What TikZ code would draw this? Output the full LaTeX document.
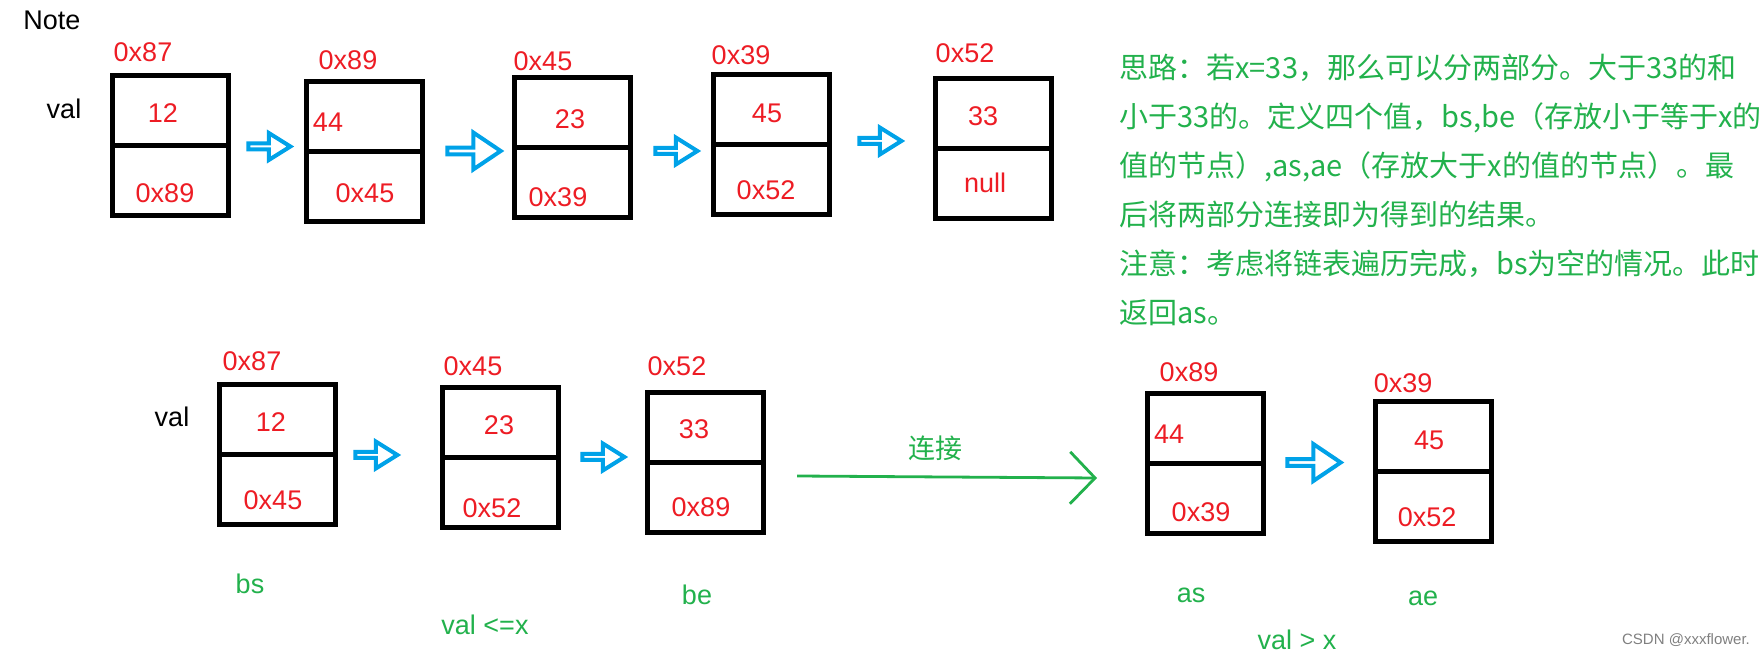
\documentclass[tikz,border=0pt]{standalone}
\usepackage{fontspec}
\setmainfont{Liberation Sans}
\newfontfamily\cjk{Noto Sans CJK SC}
\usetikzlibrary{shapes.arrows,arrows.meta}
\definecolor{pred}{RGB}{237,28,36}
\definecolor{pgreen}{RGB}{34,177,76}
\definecolor{pblue}{RGB}{0,162,232}
\tikzset{
  cell/.style={draw, line width=2.5pt, inner sep=0pt, outer sep=0pt,
    minimum width=58pt, minimum height=70pt},
  lbl/.style={inner sep=0pt, font=\fontsize{13.5}{16}\selectfont},
  addr/.style={lbl, text=pred},
  tag/.style={lbl, text=pgreen},
  nextarr/.style={single arrow, draw=pblue, line width=2pt, inner sep=0pt,
    minimum height=21pt, minimum width=13.5pt,
    single arrow head extend=3.5pt, single arrow tip angle=64},
  bignext/.style={nextarr, minimum height=26.7pt, minimum width=18.5pt,
    single arrow head extend=4.5pt, single arrow tip angle=68},
  link/.style={pgreen, line width=1.4pt, -{Straight Barb[length=12.5pt,width=26pt]}}
}
\begin{document}
\begin{tikzpicture}[x=0.5pt, y=-0.5pt]
  \useasboundingbox (0,0) rectangle (1764,656);
  % Whole list.
  \node[lbl] (note) at (52,20) {Note};
  \node[lbl] (val1) at (64,109) {val};
  \node[cell] (b87) at (170,146) {};
  \node[cell] (b89) at (364,152) {};
  \node[cell] (b45) at (572,148) {};
  \node[cell] (b39) at (771,145) {};
  \node[cell] (b52) at (993,149) {};
  \foreach \b in {b87,b89,b45,b39,b52}
    \draw[line width=2.5pt] (\b.west) -- (\b.east);
  \node[nextarr] (ar1) at (267,146.5) {};
  \node[bignext] (ar2) at (471.5,151) {};
  \node[nextarr] (ar3) at (674,151) {};
  \node[nextarr] (ar4) at (878,141) {};
  \node[addr] (t87a) at (143,52)  {0x87};
  \node[addr] (t87v) at (163,113) {12};
  \node[addr] (t87n) at (165,193) {0x89};
  \node[addr] (t89a) at (348,60)  {0x89};
  \node[addr] (t89v) at (328,122) {44};
  \node[addr] (t89n) at (365,193) {0x45};
  \node[addr] (t45a) at (543,61)  {0x45};
  \node[addr] (t45v) at (570,119) {23};
  \node[addr] (t45n) at (558,197) {0x39};
  \node[addr] (t39a) at (741,55)  {0x39};
  \node[addr] (t39v) at (767,113) {45};
  \node[addr] (t39n) at (766,190) {0x52};
  \node[addr] (t52a) at (965,53)  {0x52};
  \node[addr] (t52v) at (983,116) {33};
  \node[addr] (t52n) at (985,183) {null};
  % Idea.
  \node[anchor=north west, align=left, inner sep=0pt, text=pgreen,
    font=\cjk\fontsize{14.5}{24.5}\selectfont] (idea) at (1119,54)
    {思路：若x=33，那么可以分两部分。大于33的和\\
     小于33的。定义四个值，bs,be（存放小于等于x的\\
     值的节点）,as,ae（存放大于x的值的节点）。最\\
     后将两部分连接即为得到的结果。\\
     注意：考虑将链表遍历完成，bs为空的情况。此时\\
     返回as。};
  % Part with val <= x.
  \node[lbl] (val2) at (172,417) {val};
  \node[cell] (s87) at (277,455) {};
  \node[cell] (s45) at (500,458) {};
  \node[cell] (s52) at (705,463) {};
  \foreach \b in {s87,s45,s52}
    \draw[line width=2.5pt] (\b.west) -- (\b.east);
  \node[nextarr] (ar5) at (374,455) {};
  \node[nextarr] (ar6) at (601,457) {};
  \node[addr] (u87a) at (252,361) {0x87};
  \node[addr] (u87v) at (271,422) {12};
  \node[addr] (u87n) at (273,500) {0x45};
  \node[addr] (u45a) at (473,366) {0x45};
  \node[addr] (u45v) at (499,425) {23};
  \node[addr] (u45n) at (492,508) {0x52};
  \node[addr] (u52a) at (677,366) {0x52};
  \node[addr] (u52v) at (694,429) {33};
  \node[addr] (u52n) at (701,507) {0x89};
  \node[tag] (bs) at (250,584) {bs};
  \node[tag] (be) at (697,595) {be};
  \node[tag] (lesseq) at (485,625) {val <=x};
  % Join.
  \coordinate (lnkS) at (797,476);
  \coordinate (lnkE) at (1097,478);
  \draw[link] (lnkS) -- (lnkE);
  \node[tag, font=\cjk\fontsize{13.5}{16}\selectfont] (join) at (935,448) {连接};
  % Part with val > x.
  \node[cell] (g89) at (1205,464) {};
  \node[cell] (g39) at (1433,472) {};
  \foreach \b in {g89,g39}
    \draw[line width=2.5pt] (\b.west) -- (\b.east);
  \node[bignext] (ar7) at (1311.5,462.5) {};
  \node[addr] (u89a) at (1189,372) {0x89};
  \node[addr] (u89v) at (1169,434) {44};
  \node[addr] (u89n) at (1201,512) {0x39};
  \node[addr] (u39a) at (1403,383) {0x39};
  \node[addr] (u39v) at (1429,440) {45};
  \node[addr] (u39n) at (1427,517) {0x52};
  \node[tag] (as) at (1191,595) {as};
  \node[tag] (ae) at (1423,598) {ae};
  \node[tag] (greater) at (1297,640) {val > x};
  \node[inner sep=0pt, text=gray, font=\fontsize{7.5}{9}\selectfont]
    (mark) at (1686,640) {CSDN @xxxflower.};
\end{tikzpicture}
\end{document}
